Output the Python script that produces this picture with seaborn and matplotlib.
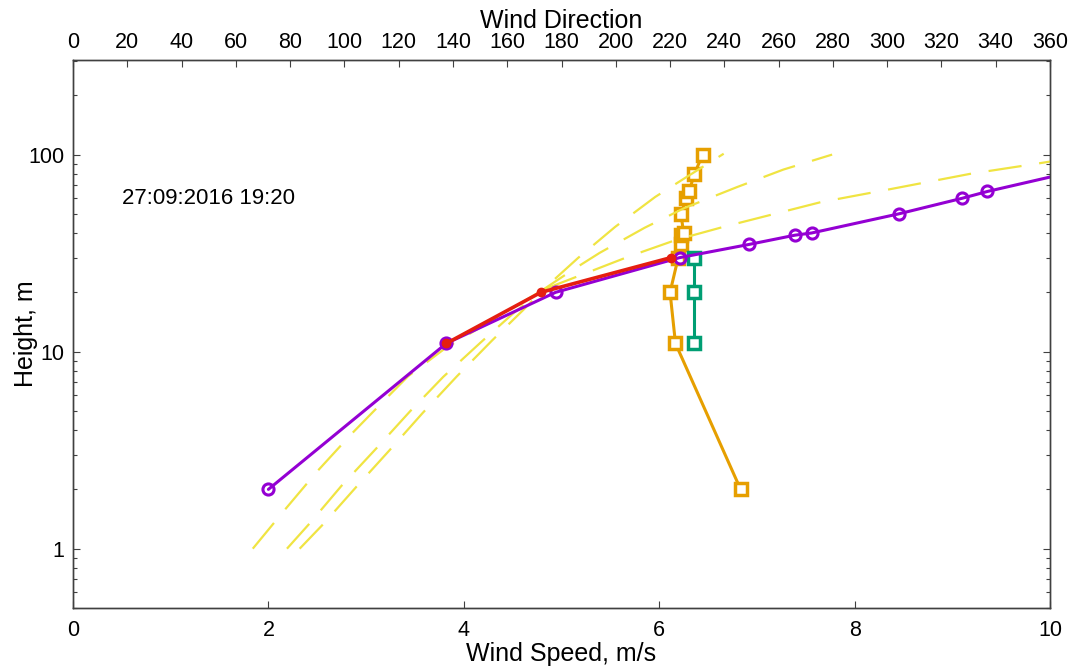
import matplotlib
matplotlib.use("Agg")
import matplotlib.pyplot as plt
import matplotlib.ticker as mticker
import seaborn as sns
import pandas as pd

# ---- data ----
speed_height = [2, 11, 20, 30, 35, 39, 40, 50, 60, 65, 100]
speed_value = [2.0, 3.82, 4.94, 6.21, 6.92, 7.39, 7.56, 8.45, 9.10, 9.36, 11.0]

red_height = [11, 20, 30]
red_speed = [3.82, 4.79, 6.12]

dir_height = [2, 11, 20, 30, 35, 39, 40, 50, 60, 65, 80, 100]
dir_value = [246, 222, 220, 223, 224, 224, 225, 224, 226, 227, 229, 232]

green_height = [11, 20, 30]
green_dir = [229, 229, 229]

fitA_speed = [1.84, 2.17, 2.50, 2.85, 3.21, 3.43, 3.81, 4.30, 4.81, 5.17, 5.55, 5.96, 6.25, 6.66]
fitA_height = [1.0, 1.58, 2.47, 3.82, 5.82, 7.5, 10.4, 14.5, 20.6, 29.9, 43, 61, 75.3, 101]

fitB_speed = [2.19, 2.42, 2.75, 3.10, 3.45, 3.79, 4.17, 4.51, 4.81, 5.12, 5.39, 5.85, 6.26, 6.79, 7.27, 7.77]
fitB_height = [1.0, 1.34, 2.09, 3.21, 4.98, 7.45, 11.1, 15.7, 20.6, 26.1, 31.7, 42.5, 53.6, 68.2, 83.9, 100]

fitC_speed = [2.32, 2.56, 2.90, 3.24, 3.58, 3.93, 4.29, 4.61, 4.81, 5.38, 5.69, 6.18, 6.66, 7.65, 8.34, 9.18, 9.87, 10.45]
fitC_height = [1.0, 1.33, 2.06, 3.16, 4.89, 7.5, 11.4, 16.3, 20.6, 26.5, 30.4, 37.0, 43.0, 57.3, 66.4, 79.8, 90, 100]

stamp = "27:09:2016 19:20"

speed_ticks = [0, 2, 4, 6, 8, 10]
dir_ticks = list(range(0, 361, 20))
height_ticks = [1, 10, 100]

# ---- colours ----
PURPLE = "#9400D3"
RED = "#E51E10"
ORANGE = "#E69F00"
GREEN = "#009E73"
YELLOW = "#F0E442"

sns.set_theme(style="ticks")
plt.rcParams["font.family"] = ["Liberation Sans", "DejaVu Sans"]
plt.rcParams["axes.edgecolor"] = "#404040"
plt.rcParams["axes.linewidth"] = 1.0

fig = plt.figure(figsize=(10.83, 6.68), dpi=100)
ax = fig.add_axes([73 / 1083, 1 - 608 / 668, (1050 - 73) / 1083, (608 - 60) / 668])
ax2 = ax.twiny()
ax.set_zorder(ax2.get_zorder() + 1)
ax.patch.set_visible(False)

ax.set_yscale("log")

# direction profiles on top axis
sns.lineplot(x=dir_value, y=dir_height, ax=ax2, sort=False, estimator=None,
             color=ORANGE, lw=2.2, marker="s", markersize=8,
             markerfacecolor="white", markeredgecolor=ORANGE, markeredgewidth=2.5)
sns.lineplot(x=green_dir, y=green_height, ax=ax2, sort=False, estimator=None,
             color=GREEN, lw=2.2, marker="s", markersize=8,
             markerfacecolor="white", markeredgecolor=GREEN, markeredgewidth=2.5)

# fitted profiles (dashed)
for xs, ys in [(fitA_speed, fitA_height), (fitB_speed, fitB_height), (fitC_speed, fitC_height)]:
    sns.lineplot(x=xs, y=ys, ax=ax, sort=False, estimator=None, color=YELLOW,
                 lw=1.6, linestyle=(0, (15, 8)))

# speed profiles
sns.lineplot(x=speed_value, y=speed_height, ax=ax, sort=False, estimator=None,
             color=PURPLE, lw=2.2, marker="o", markersize=8,
             markerfacecolor="none", markeredgecolor=PURPLE, markeredgewidth=2.2)
sns.lineplot(x=red_speed, y=red_height, ax=ax, sort=False, estimator=None,
             color=RED, lw=2.6, marker="o", markersize=6,
             markerfacecolor=RED, markeredgecolor=RED, markeredgewidth=1)

ax.text(0.5, 60, stamp, fontsize=16, ha="left", va="center", color="black")

ax.set_xlim(0, 10)
ax2.set_xlim(0, 360)
ax.set_ylim(0.5, 302)
ax2.set_ylim(0.5, 302)

ax.set_xticks(speed_ticks)
ax2.set_xticks(dir_ticks)
ax.set_yticks(height_ticks)
ax.yaxis.set_major_formatter(mticker.FixedFormatter([str(t) for t in height_ticks]))
ax.yaxis.set_minor_locator(mticker.LogLocator(base=10, subs=range(2, 10)))
ax.yaxis.set_minor_formatter(mticker.NullFormatter())

ax.tick_params(axis="x", which="both", direction="in", length=5, width=0.8,
               labelsize=15.5, pad=9, top=False, colors="#404040", labelcolor="black")
ax.tick_params(axis="y", which="major", direction="in", length=5, width=0.8,
               labelsize=15.5, pad=6, right=True, colors="#404040", labelcolor="black")
ax.tick_params(axis="y", which="minor", direction="in", length=3, width=0.8,
               right=True, colors="#404040")
ax2.tick_params(axis="x", direction="in", length=5, width=0.8, labelsize=15.5,
                pad=5, colors="#404040", labelcolor="black")
ax2.tick_params(axis="y", which="both", left=False, right=False, labelleft=False,
                labelright=False)

ax.set_xlabel("Wind Speed, m/s", fontsize=18, labelpad=0, color="black")
ax.set_ylabel("Height, m", fontsize=18, labelpad=-7, color="black")
ax2.set_xlabel("Wind Direction", fontsize=18, labelpad=3, color="black")

for a in (ax, ax2):
    for s in a.spines.values():
        s.set_visible(True)
        s.set_color("#404040")

fig.savefig("out.png", dpi=100)
